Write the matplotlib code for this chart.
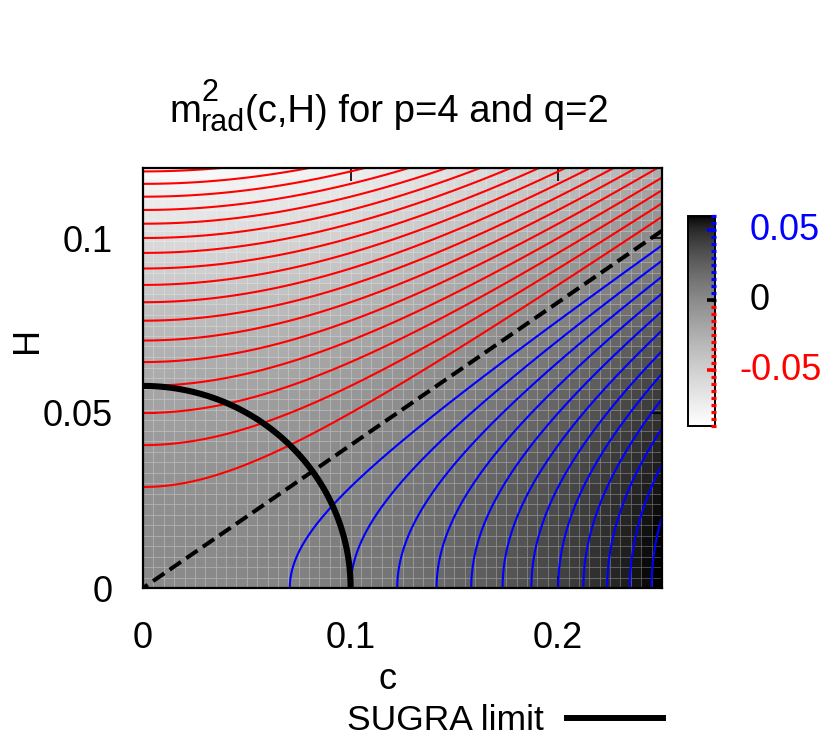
import numpy as np
import matplotlib
matplotlib.use('Agg')
import matplotlib.pyplot as plt
from matplotlib.colors import ListedColormap, Normalize
from matplotlib.lines import Line2D
from matplotlib.transforms import blended_transform_factory

# ---------------- data ----------------
c_limits = [0.0, 0.25]
H_limits = [0.0, 0.12]
c_samples = 51          # pm3d sampling of the map
H_samples = 41
# m_rad^2(c,H) = m2_coef_c * c^2 + m2_coef_H * H^2
m2_coef_c = 1.0
m2_coef_H = -6.0
# SUGRA limit curve: sugra_coef_c*c^2 + sugra_coef_H*H^2 = sugra_level
sugra_coef_c = 1.0
sugra_coef_H = 3.0
sugra_level = 0.01

neg_levels = [-0.085, -0.08, -0.075, -0.07, -0.065, -0.06, -0.055, -0.05,
              -0.045, -0.04, -0.035, -0.03, -0.025, -0.02, -0.015, -0.01, -0.005]
zero_levels = [0.0]
pos_levels = [0.005, 0.01, 0.015, 0.02, 0.025, 0.03, 0.035, 0.04, 0.045,
              0.05, 0.055, 0.06]
cb_range = [-0.09, 0.06]
cb_minor_ticks = [-0.09, -0.085, -0.08, -0.075, -0.07, -0.065, -0.06, -0.055,
                  -0.05, -0.045, -0.04, -0.035, -0.03, -0.025, -0.02, -0.015,
                  -0.01, -0.005, 0.0, 0.005, 0.01, 0.015, 0.02, 0.025, 0.03,
                  0.035, 0.04, 0.045, 0.05, 0.055, 0.06]
cb_tick_values = [0.05, 0.0, -0.05]
cb_tick_labels = ['0.05', '0', '-0.05']
cb_tick_colors = ['blue', 'black', 'red']
x_ticks = [0.0, 0.1, 0.2]
x_tick_labels = ['0', '0.1', '0.2']
y_ticks = [0.0, 0.05, 0.1]
y_tick_labels = ['0', '0.05', '0.1']
title_main = 'm'
title_sup = '2'
title_sub = 'rad'
title_rest = '(c,H) for p=4 and q=2'
x_label = 'c'
y_label = 'H'
legend_label = 'SUGRA limit'

# ---------------- style ----------------
plt.rcParams['font.family'] = ['Liberation Sans', 'DejaVu Sans']
plt.rcParams['contour.negative_linestyle'] = 'solid'
FS = 26
FS_T = 27.5
W, Hpx = 830, 756

fig = plt.figure(figsize=(W / 100, Hpx / 100), dpi=100)
ax = fig.add_axes([143 / W, (Hpx - 588) / Hpx, 519 / W, 420 / Hpx])
cax = fig.add_axes([688 / W, (Hpx - 426) / Hpx, 27 / W, 210 / Hpx])

# gnuplot-like "negative gray" palette with gamma 1.5
f = np.linspace(0, 1, 256)
g = (1 - f) ** (1 / 1.5)
cmap = ListedColormap(np.column_stack([g, g, g]))
norm = Normalize(vmin=cb_range[0], vmax=cb_range[1])


def m2(c, h):
    return m2_coef_c * c ** 2 + m2_coef_H * h ** 2


# pm3d map: cell colour = mean of the four corner values
cn = np.linspace(c_limits[0], c_limits[1], c_samples)
hn = np.linspace(H_limits[0], H_limits[1], H_samples)
CN, HN = np.meshgrid(cn, hn)
ZN = m2(CN, HN)
ZC = 0.25 * (ZN[:-1, :-1] + ZN[1:, :-1] + ZN[:-1, 1:] + ZN[1:, 1:])
ax.pcolormesh(cn, hn, ZC, cmap=cmap, norm=norm, shading='flat',
              edgecolors=(1, 1, 1, 0.025), linewidth=0.6, antialiased=True)

# contours
cf = np.linspace(c_limits[0], c_limits[1], 600)
hf = np.linspace(H_limits[0], H_limits[1], 500)
CF, HF = np.meshgrid(cf, hf)
ZF = m2(CF, HF)
ax.contour(cf, hf, ZF, levels=neg_levels, colors='#ff0000', linewidths=1.5,
           linestyles='solid')
ax.contour(cf, hf, ZF, levels=pos_levels, colors='#0000ff', linewidths=1.5,
           linestyles='solid')
cz = ax.contour(cf, hf, ZF, levels=zero_levels, colors='black', linewidths=2.9)
cz.set_linestyle((0, (3.4, 1.6)))

SF = sugra_coef_c * CF ** 2 + sugra_coef_H * HF ** 2
ax.contour(cf, hf, SF, levels=[sugra_level], colors='black', linewidths=4.4)

ax.set_xlim(c_limits)
ax.set_ylim(H_limits)
ax.set_xticks(x_ticks, x_tick_labels)
ax.set_yticks(y_ticks, y_tick_labels)
ax.tick_params(direction='in', length=9, width=1.2, top=True, right=True,
               labelsize=FS, color='black')
ax.tick_params(axis='x', pad=24)
ax.tick_params(axis='y', pad=22)
for s in ax.spines.values():
    s.set_linewidth(1.6)

# colour box
cb = fig.colorbar(matplotlib.cm.ScalarMappable(norm=norm, cmap=cmap), cax=cax)
cb.outline.set_linewidth(1.4)
cax.set_yticks([])
cax.set_yticks([], minor=True)
cax.tick_params(which='both', length=0, labelright=False, labelleft=False)
trb = blended_transform_factory(cax.transAxes, cax.transData)
minor_cols = ['blue' if v > 1e-9 else ('red' if v < -1e-9 else 'black')
              for v in cb_minor_ticks]
cax.hlines(cb_minor_ticks, 0.87, 1.04, transform=trb, colors=minor_cols,
           linewidth=2.3, clip_on=False, zorder=5)
cax.hlines(cb_tick_values, 0.70, 1.0, transform=trb, colors=cb_tick_colors,
           linewidth=2.6, clip_on=False, zorder=6)

tr = blended_transform_factory(fig.transFigure, cax.transData)
cb_label_x = [750, 750, 739]
for v, lab, col, xp in zip(cb_tick_values, cb_tick_labels, cb_tick_colors, cb_label_x):
    cax.text(xp / W, v, lab, transform=tr, color=col, fontsize=FS,
             ha='left', va='center', clip_on=False)

# title built from pieces (gnuplot enhanced text: super/subscript at 0.8 size)
renderer = fig.canvas.get_renderer()
SS = FS_T * 0.8
yb = 1 - 122 / Hpx
t_m = fig.text(0, yb, title_main, fontsize=FS_T, va='baseline', ha='left')
t_sup = fig.text(0, yb + 21 / Hpx, title_sup, fontsize=SS, va='baseline', ha='left')
t_sub = fig.text(0, yb - 9 / Hpx, title_sub, fontsize=SS, va='baseline', ha='left')
t_rest = fig.text(0, yb, title_rest, fontsize=FS_T, va='baseline', ha='left')
w_m = t_m.get_window_extent(renderer).width
w_sup = t_sup.get_window_extent(renderer).width
w_sub = t_sub.get_window_extent(renderer).width
w_rest = t_rest.get_window_extent(renderer).width
w_script = max(w_sup, w_sub)
total = w_m + w_script + w_rest
x0 = 389 - total / 2
t_m.set_x(x0 / W)
t_sup.set_x((x0 + w_m) / W)
t_sub.set_x((x0 + w_m) / W)
t_rest.set_x((x0 + w_m + w_script) / W)

fig.text(387 / W, 1 - 689 / Hpx, x_label, ha='center', va='baseline', fontsize=FS)
fig.text(37 / W, 1 - 340 / Hpx, y_label, ha='center', va='baseline', fontsize=FS,
         rotation=90, rotation_mode='anchor')

# legend
fig.legend(handles=[Line2D([], [], color='black', lw=4.3)], labels=[legend_label],
           loc='center right', bbox_to_anchor=(663 / W, 1 - 721 / Hpx),
           frameon=False, handlelength=2.7, handletextpad=0.65, borderpad=0,
           borderaxespad=0, markerfirst=False, fontsize=25.5)

fig.savefig('out.png', dpi=100)
